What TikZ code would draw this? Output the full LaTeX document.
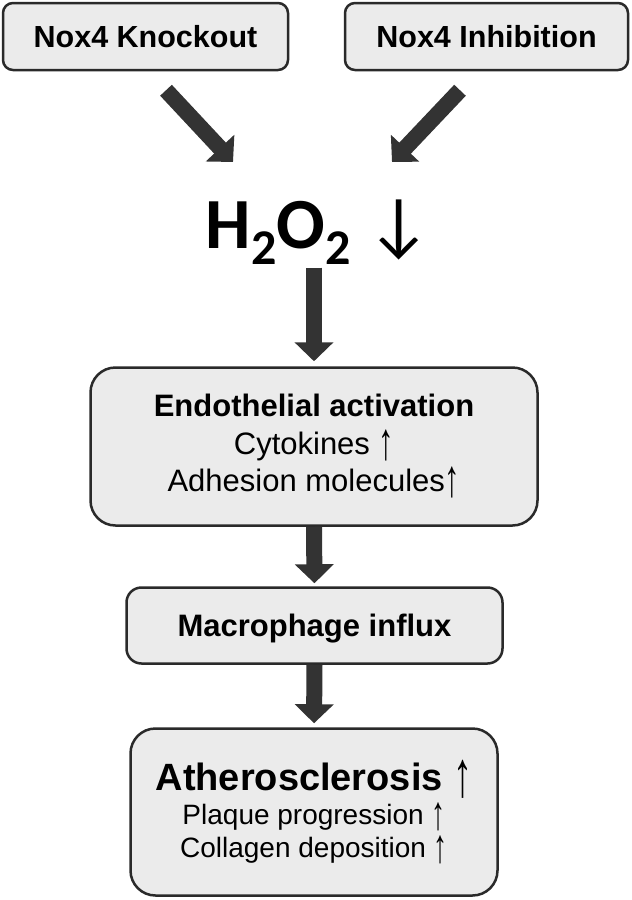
\documentclass[tikz,border=0pt]{standalone}
\usepackage{fontspec}
\setmainfont{Liberation Sans}
\newfontfamily\calfont{Carlito}
\usetikzlibrary{arrows.meta}
\definecolor{boxfill}{HTML}{EBEBEB}
\definecolor{boxline}{HTML}{2A2A2A}
\definecolor{arrowgray}{HTML}{333333}
\newcommand{\subtwo}{\raisebox{-16pt}{\fontsize{50}{50}\selectfont 2}}
\newcommand{\upar}{\raisebox{-0.16em}{\scalebox{1}[1.7]{\mdseries ↑}}}

\begin{document}
\begin{tikzpicture}[x=1pt, y=-1pt,
  box/.style={draw=boxline, fill=boxfill, line width=2.5pt, rounded corners=10pt,
    inner sep=0pt, align=center},
  fat/.style={draw=arrowgray, line width=16pt, -{Triangle[width=38pt, length=19pt]}}]

\useasboundingbox (0,0) rectangle (632,900);

\node [box, minimum width=285pt, minimum height=67pt, text depth=-2pt,
font={\fontsize{30.5}{36}\selectfont\bfseries}] (ko) at (145.5, 36.5) {Nox4 Knockout};

\node [box, minimum width=283pt, minimum height=67pt, text depth=-2pt,
font={\fontsize{30.5}{36}\selectfont\bfseries}] (inh) at (486.5, 36.5) {Nox4 Inhibition};

\node [inner sep=0pt, font={\calfont\bfseries\fontsize{72}{72}\selectfont}] (h2o2)
 at (319, 232) {H\subtwo O\subtwo\ {\mdseries ↓}};

\node [box, rounded corners=25pt, minimum width=447pt, minimum height=158pt,
font={\fontsize{31}{37.5}\selectfont}] (endo) at (314, 446.5)
{\textbf{Endothelial activation}\\Cytokines \upar\\Adhesion molecules\upar};

\node [box, rounded corners=15pt, minimum width=376pt, minimum height=76pt, text depth=-3pt,
font={\fontsize{31}{37}\selectfont\bfseries}] (macro) at (314.5, 625.5) {Macrophage influx};

\node [box, rounded corners=25pt, minimum width=367pt, minimum height=167pt,
font={\fontsize{28}{33}\selectfont}] (ath)
 at (314, 812) {{\fontsize{38}{40}\selectfont\textbf{Atherosclerosis} \upar}\\[1pt]
Plaque progression \upar\\
Collagen deposition \upar};

\coordinate (koTip) at (233, 162);
\coordinate (inhTip) at (392, 162);

\draw [fat] ([xshift=20.5pt, yshift=-19pt]ko.south) -- (koTip);
\draw [fat] ([xshift=-26.5pt, yshift=-19pt]inh.south) -- (inhTip);
\draw [fat, shorten >=5pt] ([yshift=-3pt]h2o2.south -| endo.north) -- (endo.north);
\draw [fat, shorten >=3pt] (endo.south) -- (macro.north);
\draw [fat, shorten >=4pt] (macro.south) -- (ath.north);

\end{tikzpicture}
\end{document}
